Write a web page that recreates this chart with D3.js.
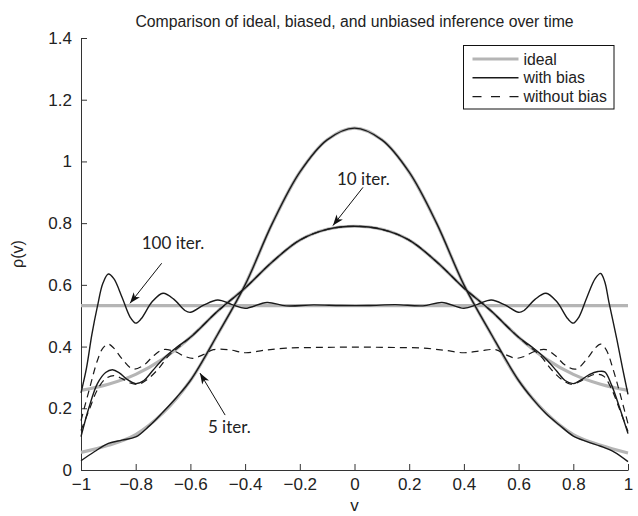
<!DOCTYPE html>
<html lang="en">
<head>
<meta charset="UTF-8">
<title>Ideal vs biased vs unbiased inference</title>
<script src="https://d3js.org/d3.v7.min.js"></script>
<style>
  body { margin: 0; background: #fff; }
  text { font-family: "Liberation Sans", Arial, sans-serif; fill: #222; }
  .note { font-family: Lato, "Open Sans", sans-serif; }
</style>
</head>
<body>
<svg id="chart" width="638" height="516"></svg>
<script>
// ---- data ----
const xTicks = [-1, -0.8, -0.6, -0.4, -0.2, 0, 0.2, 0.4, 0.6, 0.8, 1];
const xTickLabels = ["\u22121", "\u22120.8", "\u22120.6", "\u22120.4", "\u22120.2", "0", "0.2", "0.4", "0.6", "0.8", "1"];
const yTicks = [0, 0.2, 0.4, 0.6, 0.8, 1, 1.2, 1.4];
const yTickLabels = ["0", "0.2", "0.4", "0.6", "0.8", "1", "1.2", "1.4"];

// ideal curves (grey)
const ideal100X = [-1, 1];
const ideal100Y = [0.533, 0.533];
const ideal10X = [-1, -0.9, -0.8, -0.7, -0.6, -0.5, -0.4, -0.3, -0.2, -0.1, 0, 0.1, 0.2, 0.3, 0.4, 0.5, 0.6, 0.7, 0.8, 0.9, 1];
const ideal10Y = [0.258, 0.278, 0.31, 0.36, 0.43, 0.515, 0.59, 0.675, 0.745, 0.78, 0.79, 0.78, 0.745, 0.675, 0.59, 0.515, 0.43, 0.36, 0.31, 0.278, 0.258];
const ideal5X = [-1, -0.9, -0.8, -0.7, -0.6, -0.5, -0.4, -0.3, -0.2, -0.1, 0, 0.1, 0.2, 0.3, 0.4, 0.5, 0.6, 0.7, 0.8, 0.9, 1];
const ideal5Y = [0.057, 0.08, 0.115, 0.185, 0.29, 0.44, 0.6, 0.8, 0.965, 1.07, 1.108, 1.07, 0.965, 0.8, 0.6, 0.44, 0.29, 0.185, 0.115, 0.08, 0.055];

// with bias (solid)
const bias5X = [-1, -0.95, -0.9, -0.85, -0.8, -0.75, -0.7, -0.65, -0.6, -0.5, -0.4, -0.3, -0.2, -0.1, 0, 0.1, 0.2, 0.3, 0.4, 0.5, 0.6, 0.65, 0.7, 0.75, 0.8, 0.85, 0.9, 0.95, 1];
const bias5Y = [0.03, 0.06, 0.086, 0.097, 0.107, 0.143, 0.188, 0.236, 0.29, 0.44, 0.6, 0.8, 0.965, 1.07, 1.108, 1.07, 0.965, 0.8, 0.6, 0.44, 0.29, 0.232, 0.183, 0.145, 0.11, 0.092, 0.077, 0.058, 0.027];
const bias10X = [-1, -0.97, -0.94, -0.91, -0.885, -0.86, -0.83, -0.8, -0.77, -0.74, -0.7, -0.65, -0.6, -0.5, -0.4, -0.3, -0.2, -0.1, 0, 0.1, 0.2, 0.3, 0.4, 0.5, 0.6, 0.65, 0.7, 0.74, 0.77, 0.8, 0.83, 0.86, 0.89, 0.915, 0.94, 0.97, 1];
const bias10Y = [0.108, 0.205, 0.28, 0.316, 0.325, 0.315, 0.293, 0.28, 0.29, 0.32, 0.36, 0.398, 0.43, 0.515, 0.59, 0.675, 0.745, 0.78, 0.79, 0.78, 0.745, 0.675, 0.59, 0.515, 0.43, 0.398, 0.36, 0.32, 0.29, 0.28, 0.293, 0.31, 0.319, 0.318, 0.275, 0.2, 0.118];
const bias100X = [-1, -0.98, -0.96, -0.94, -0.92, -0.9, -0.88, -0.85, -0.82, -0.8, -0.78, -0.74, -0.7, -0.66, -0.62, -0.6, -0.55, -0.5, -0.45, -0.4, -0.32, -0.25, -0.15, -0.05, 0.05, 0.15, 0.25, 0.32, 0.4, 0.45, 0.5, 0.55, 0.6, 0.62, 0.66, 0.7, 0.74, 0.78, 0.8, 0.82, 0.85, 0.88, 0.9, 0.915, 0.93, 0.96, 0.98, 1];
const bias100Y = [0.25, 0.33, 0.44, 0.53, 0.605, 0.635, 0.62, 0.56, 0.495, 0.476, 0.49, 0.545, 0.573, 0.553, 0.517, 0.511, 0.535, 0.551, 0.537, 0.524, 0.543, 0.532, 0.535, 0.533, 0.533, 0.536, 0.532, 0.543, 0.524, 0.537, 0.551, 0.535, 0.511, 0.517, 0.553, 0.573, 0.545, 0.49, 0.476, 0.495, 0.56, 0.62, 0.637, 0.61, 0.545, 0.42, 0.33, 0.245];

// without bias (dashed)
const nobias10X = [-1, -0.97, -0.94, -0.91, -0.88, -0.85, -0.82, -0.79, -0.76, -0.72, -0.68, -0.64, -0.6, -0.5, -0.4, -0.3, -0.2, -0.1, 0, 0.1, 0.2, 0.3, 0.4, 0.5, 0.6, 0.64, 0.68, 0.72, 0.76, 0.79, 0.82, 0.85, 0.88, 0.91, 0.94, 0.97, 1];
const nobias10Y = [0.128, 0.195, 0.26, 0.296, 0.306, 0.296, 0.282, 0.278, 0.292, 0.325, 0.37, 0.4, 0.43, 0.515, 0.59, 0.675, 0.745, 0.78, 0.79, 0.78, 0.745, 0.675, 0.59, 0.515, 0.43, 0.4, 0.37, 0.325, 0.292, 0.278, 0.285, 0.3, 0.31, 0.305, 0.262, 0.195, 0.125];
const nobias100X = [-1, -0.97, -0.94, -0.92, -0.9, -0.88, -0.85, -0.81, -0.77, -0.735, -0.7, -0.66, -0.62, -0.59, -0.555, -0.516, -0.46, -0.4, -0.33, -0.25, -0.15, -0.05, 0.05, 0.15, 0.25, 0.33, 0.4, 0.46, 0.516, 0.555, 0.59, 0.62, 0.66, 0.7, 0.735, 0.77, 0.81, 0.85, 0.88, 0.9, 0.92, 0.946, 0.97, 1];
const nobias100Y = [0.16, 0.26, 0.355, 0.395, 0.408, 0.395, 0.36, 0.327, 0.34, 0.37, 0.39, 0.385, 0.368, 0.362, 0.373, 0.39, 0.39, 0.38, 0.388, 0.395, 0.397, 0.398, 0.398, 0.397, 0.395, 0.388, 0.38, 0.386, 0.39, 0.373, 0.362, 0.368, 0.385, 0.39, 0.37, 0.34, 0.327, 0.36, 0.395, 0.408, 0.39, 0.325, 0.25, 0.15];

const legendNames = ["ideal", "with bias", "without bias"];

// annotations: label, text anchor point, arrow start, arrow tip (data units)
const notes = [
  { label: "10 iter.", tx: -0.064, ty: 0.924, x1: 0.031, y1: 0.916, x2: -0.079, y2: 0.792 },
  { label: "100 iter.", tx: -0.778, ty: 0.717, x1: -0.705, y1: 0.67, x2: -0.821, y2: 0.54 },
  { label: "5 iter.", tx: -0.536, ty: 0.12, x1: -0.473, y1: 0.178, x2: -0.565, y2: 0.314 }
];

// ---- layout ----
const width = 638, height = 516;
const margin = { top: 38, right: 10, bottom: 46, left: 81 };
const svg = d3.select("#chart");
const g = svg.append("g").attr("transform", "translate(" + margin.left + "," + margin.top + ")");
const w = width - margin.left - margin.right;
const h = height - margin.top - margin.bottom;

const x = d3.scaleLinear().domain([-1, 1]).range([0, w]);
const y = d3.scaleLinear().domain([0, 1.4]).range([h, 0]);

// axes, ticks point inward like matlab
const xAxis = d3.axisBottom(x).tickValues(xTicks)
  .tickFormat((d, i) => xTickLabels[i]).tickSizeInner(-6).tickSizeOuter(0).tickPadding(8);
const yAxis = d3.axisLeft(y).tickValues(yTicks)
  .tickFormat((d, i) => yTickLabels[i]).tickSizeInner(-6).tickSizeOuter(0).tickPadding(9);

const gx = g.append("g").attr("transform", "translate(0," + h + ")").call(xAxis);
const gy = g.append("g").call(yAxis);
[gx, gy].forEach(a => {
  a.selectAll("path, line").attr("stroke", "#333").attr("stroke-width", 1);
  a.selectAll("text").style("font-family", '"Liberation Sans", Arial, sans-serif')
    .style("font-size", "17px").attr("fill", "#222");
});

const line = d3.line()
  .x(d => x(d[0]))
  .y(d => y(d[1]))
  .curve(d3.curveCatmullRom.alpha(0.5));

const zip = (xs, ys) => xs.map((v, i) => [v, ys[i]]);

var series = [
  { pts: zip(ideal100X, ideal100Y), kind: "ideal" },
  { pts: zip(ideal10X, ideal10Y), kind: "ideal" },
  { pts: zip(ideal5X, ideal5Y), kind: "ideal" },
  { pts: zip(nobias100X, nobias100Y), kind: "nobias" },
  { pts: zip(nobias10X, nobias10Y), kind: "nobias" },
  { pts: zip(bias100X, bias100Y), kind: "bias" },
  { pts: zip(bias10X, bias10Y), kind: "bias" },
  { pts: zip(bias5X, bias5Y), kind: "bias" }
];

const styles = {
  ideal: { stroke: "#b5b5b5", width: 3.2, dash: null },
  bias: { stroke: "#1a1a1a", width: 1.4, dash: null },
  nobias: { stroke: "#1a1a1a", width: 1.2, dash: "7,5" }
};

g.selectAll("path.curve").data(series).join("path")
  .attr("class", "curve")
  .attr("d", d => line(d.pts))
  .attr("fill", "none")
  .attr("stroke", d => styles[d.kind].stroke)
  .attr("stroke-width", d => styles[d.kind].width)
  .attr("stroke-dasharray", d => styles[d.kind].dash);

// arrow annotations
svg.append("defs").append("marker")
  .attr("id", "arrow")
  .attr("viewBox", "-12 -5 14 10")
  .attr("refX", 0).attr("refY", 0)
  .attr("markerWidth", 14).attr("markerHeight", 10)
  .attr("markerUnits", "userSpaceOnUse")
  .attr("orient", "auto")
  .append("path")
  .attr("d", "M0,0 L-11,-4 L-8,0 L-11,4 Z")
  .attr("fill", "#111");

const ann = g.selectAll("g.note").data(notes).join("g").attr("class", "note");
ann.append("line")
  .attr("x1", d => x(d.x1)).attr("y1", d => y(d.y1))
  .attr("x2", d => x(d.x2)).attr("y2", d => y(d.y2))
  .attr("stroke", "#111").attr("stroke-width", 1)
  .attr("marker-end", "url(#arrow)");
ann.append("text")
  .attr("class", "note")
  .attr("x", d => x(d.tx)).attr("y", d => y(d.ty))
  .style("font-size", "17px")
  .text(d => d.label);

// legend
const legend = svg.append("g").attr("transform", "translate(463.5,45.5)");
legend.append("rect").attr("width", 150.5).attr("height", 63.5)
  .attr("fill", "#fff").attr("stroke", "#111").attr("stroke-width", 1);
const legendKinds = ["ideal", "bias", "nobias"];
legendNames.forEach((name, i) => {
  const yy = 13.5 + i * 18.8;
  const s = styles[legendKinds[i]];
  legend.append("line").attr("x1", 9).attr("x2", 55).attr("y1", yy).attr("y2", yy)
    .attr("stroke", s.stroke).attr("stroke-width", s.width)
    .attr("stroke-dasharray", s.dash ? "9,9.5" : null);
  legend.append("text").attr("x", 60).attr("y", yy + 5.5)
    .style("font-size", "15.8px").text(name);
});

// titles
svg.append("text").attr("x", margin.left + w / 2).attr("y", 26.5)
  .attr("text-anchor", "middle").style("font-size", "15.8px")
  .text("Comparison of ideal, biased, and unbiased inference over time");
svg.append("text").attr("x", margin.left + w / 2).attr("y", 511)
  .attr("text-anchor", "middle").style("font-size", "17px").text("v");
svg.append("text").attr("transform", "translate(23," + (margin.top + h / 2) + ") rotate(-90)")
  .attr("text-anchor", "middle").style("font-size", "16px").text("\u03c1(v)");
</script>
</body>
</html>
